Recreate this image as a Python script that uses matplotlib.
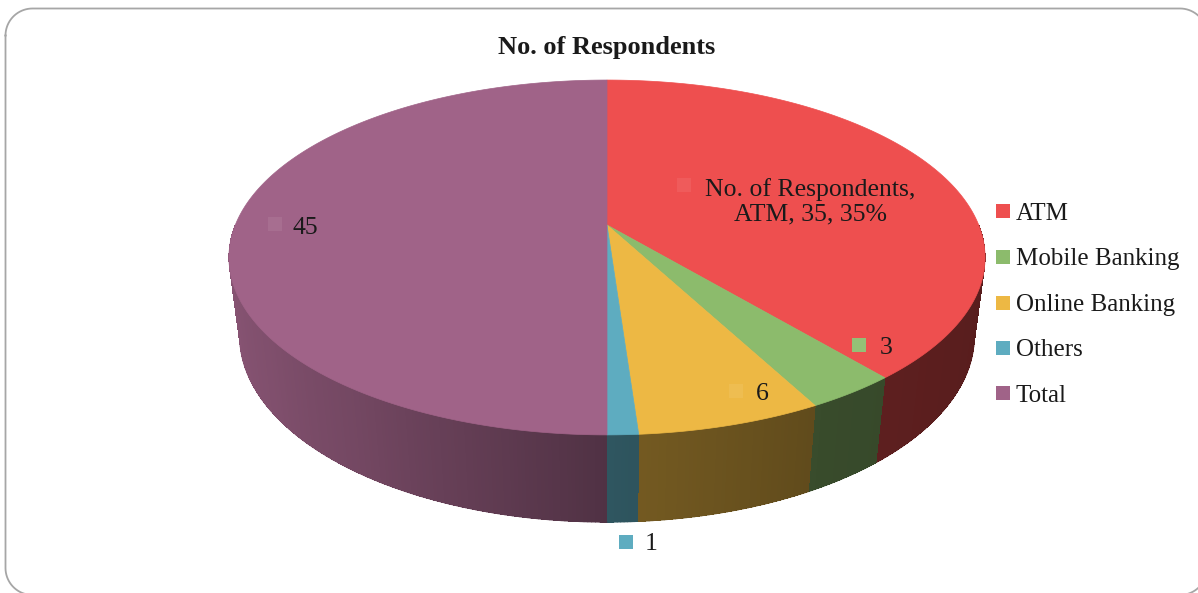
import numpy as np
import matplotlib.pyplot as plt
from matplotlib.patches import Polygon, Rectangle
from matplotlib.collections import PolyCollection, LineCollection
from matplotlib.colors import to_rgb

# Survey data
categories = ['ATM', 'Mobile Banking', 'Online Banking', 'Others', 'Total']
respondents = [35, 3, 6, 1, 45]
label_texts = ['No. of Respondents,\nATM, 35, 35%', '3', '6', '1', '45']
colors = ['#EE4F4F', '#8CBB6C', '#EDB844', '#5EACC0', '#A06388']

# where the data labels and their keys sit (pixels)
label_pos = [(810, 202), (886, 346), (762, 392), (651, 542), (305, 225)]
key_pos = [(684, 185), (859, 345), (736, 391), (626, 542), (275, 224)]

plt.rcParams['font.family'] = ['Liberation Serif', 'DejaVu Serif']

W, H = 1198, 593
fig = plt.figure(figsize=(W / 100, H / 100), dpi=100)
ax = fig.add_axes([0, 0, 1, 1])
ax.set_xlim(0, W)
ax.set_ylim(H, 0)
ax.axis('off')

# perspective camera looking down on the disc
elev = np.radians(30)
ce, se = np.cos(elev), np.sin(elev)
a = 5.464                 # camera distance / cos(elev), in disc radii
dist = a * ce
thick = 0.268             # disc thickness, in radii
cx, cy = 607, 225
sx = 2031 * ce
sy = 937 / np.tan(elev)


def project(theta, w=0.0, r=1.0):
    u = r * np.sin(theta)
    v = r * np.cos(theta)
    z = v * ce + dist - w * se
    X = u / z
    Y = (v * se + w * ce) / z
    return cx + sx * X, cy - sy * Y


def wall_shade(theta):
    deg = np.degrees(theta)
    return np.interp(deg, [90, 125, 150, 180, 195, 215, 235, 270],
                     [0.36, 0.38, 0.40, 0.50, 0.60, 0.72, 0.80, 0.88])


# slice edges, clockwise from the back of the disc
cum = np.concatenate([[0], np.cumsum(respondents)]) / np.sum(respondents)
edges = 2 * np.pi * cum

# side walls of the front half, painted far to near
quads, quad_cols, depths = [], [], []
rims, rim_cols = [], []
facing = -1.0 / dist      # walls face the camera where cos(theta) < this
step = np.radians(0.5)
for i, col in enumerate(colors):
    t0 = max(edges[i], np.pi / 2)
    t1 = min(edges[i + 1], 3 * np.pi / 2)
    if t1 <= t0:
        continue
    n = max(2, int(np.ceil((t1 - t0) / step)) + 1)
    ts = np.linspace(t0, t1, n)
    base = np.array(to_rgb(col))
    for ta, tb in zip(ts[:-1], ts[1:]):
        p1 = project(ta)
        p2 = project(tb)
        p3 = project(tb, -thick)
        p4 = project(ta, -thick)
        shade = np.clip(base * wall_shade((ta + tb) / 2), 0, 1)
        quads.append([p1, p2, p3, p4])
        quad_cols.append(shade)
        depths.append(np.cos((ta + tb) / 2))
        if np.cos(ta) < facing and np.cos(tb) < facing:
            rims.append([p4, p3])
            rim_cols.append(shade)
order = np.argsort(depths)[::-1]
ax.add_collection(PolyCollection([quads[k] for k in order],
                                 facecolors=[quad_cols[k] for k in order],
                                 edgecolors='none', linewidths=0,
                                 antialiased=False))
# smooth the lower rim of the walls
ax.add_collection(LineCollection(rims, colors=rim_cols,
                                 linewidths=0.8, capstyle='round'))

# top faces
for i, col in enumerate(colors):
    ts = np.linspace(edges[i], edges[i + 1],
                     max(3, int(np.degrees(edges[i + 1] - edges[i]) * 2)))
    xs, ys = project(ts)
    pts = np.column_stack([np.r_[cx, xs], np.r_[cy, ys]])
    ax.add_patch(Polygon(pts, closed=True, fc=col, ec=col, lw=0.5))

# data labels with their small keys
for i, col in enumerate(colors):
    kx, ky = key_pos[i]
    kc = np.array(to_rgb(col))
    if categories[i] != 'Others':
        kc = kc + (1 - kc) * 0.07
    ax.add_patch(Rectangle((kx - 7, ky - 7), 14, 14, fc=kc, ec='none'))
    lx, ly = label_pos[i]
    multi = '\n' in label_texts[i]
    ax.text(lx, ly, label_texts[i], fontsize=18.5, color='#1a1a1a',
            ha='center', va='center' if multi else 'center_baseline',
            linespacing=1.15)

# legend
legend_y = [211, 257, 303, 348, 393]
for i, name in enumerate(categories):
    ax.add_patch(Rectangle((996, legend_y[i] - 7), 14, 14, fc=colors[i], ec='none'))
    ax.text(1016, legend_y[i], name, fontsize=18, color='#1a1a1a',
            ha='left', va='center_baseline')

ax.text(607, 45, 'No. of Respondents', fontsize=19, fontweight='bold',
        color='#1a1a1a', ha='center', va='center_baseline')

# rounded chart border
x0, x1, y0, y1, rad = 5.5, 1207.0, 8.5, 595.0, 27.0
arc = np.linspace(0, np.pi / 2, 20)
bx = np.concatenate([x0 + rad - rad * np.cos(arc), x1 - rad + rad * np.sin(arc),
                     x1 - rad + rad * np.cos(arc), x0 + rad - rad * np.sin(arc)])
by = np.concatenate([y0 + rad - rad * np.sin(arc), y0 + rad - rad * np.cos(arc),
                     y1 - rad + rad * np.sin(arc), y1 - rad + rad * np.cos(arc)])
ax.plot(np.r_[bx, bx[0]], np.r_[by, by[0]], color='#a6a6a6', lw=1.3, clip_on=False)

fig.savefig('out.png', dpi=100)
